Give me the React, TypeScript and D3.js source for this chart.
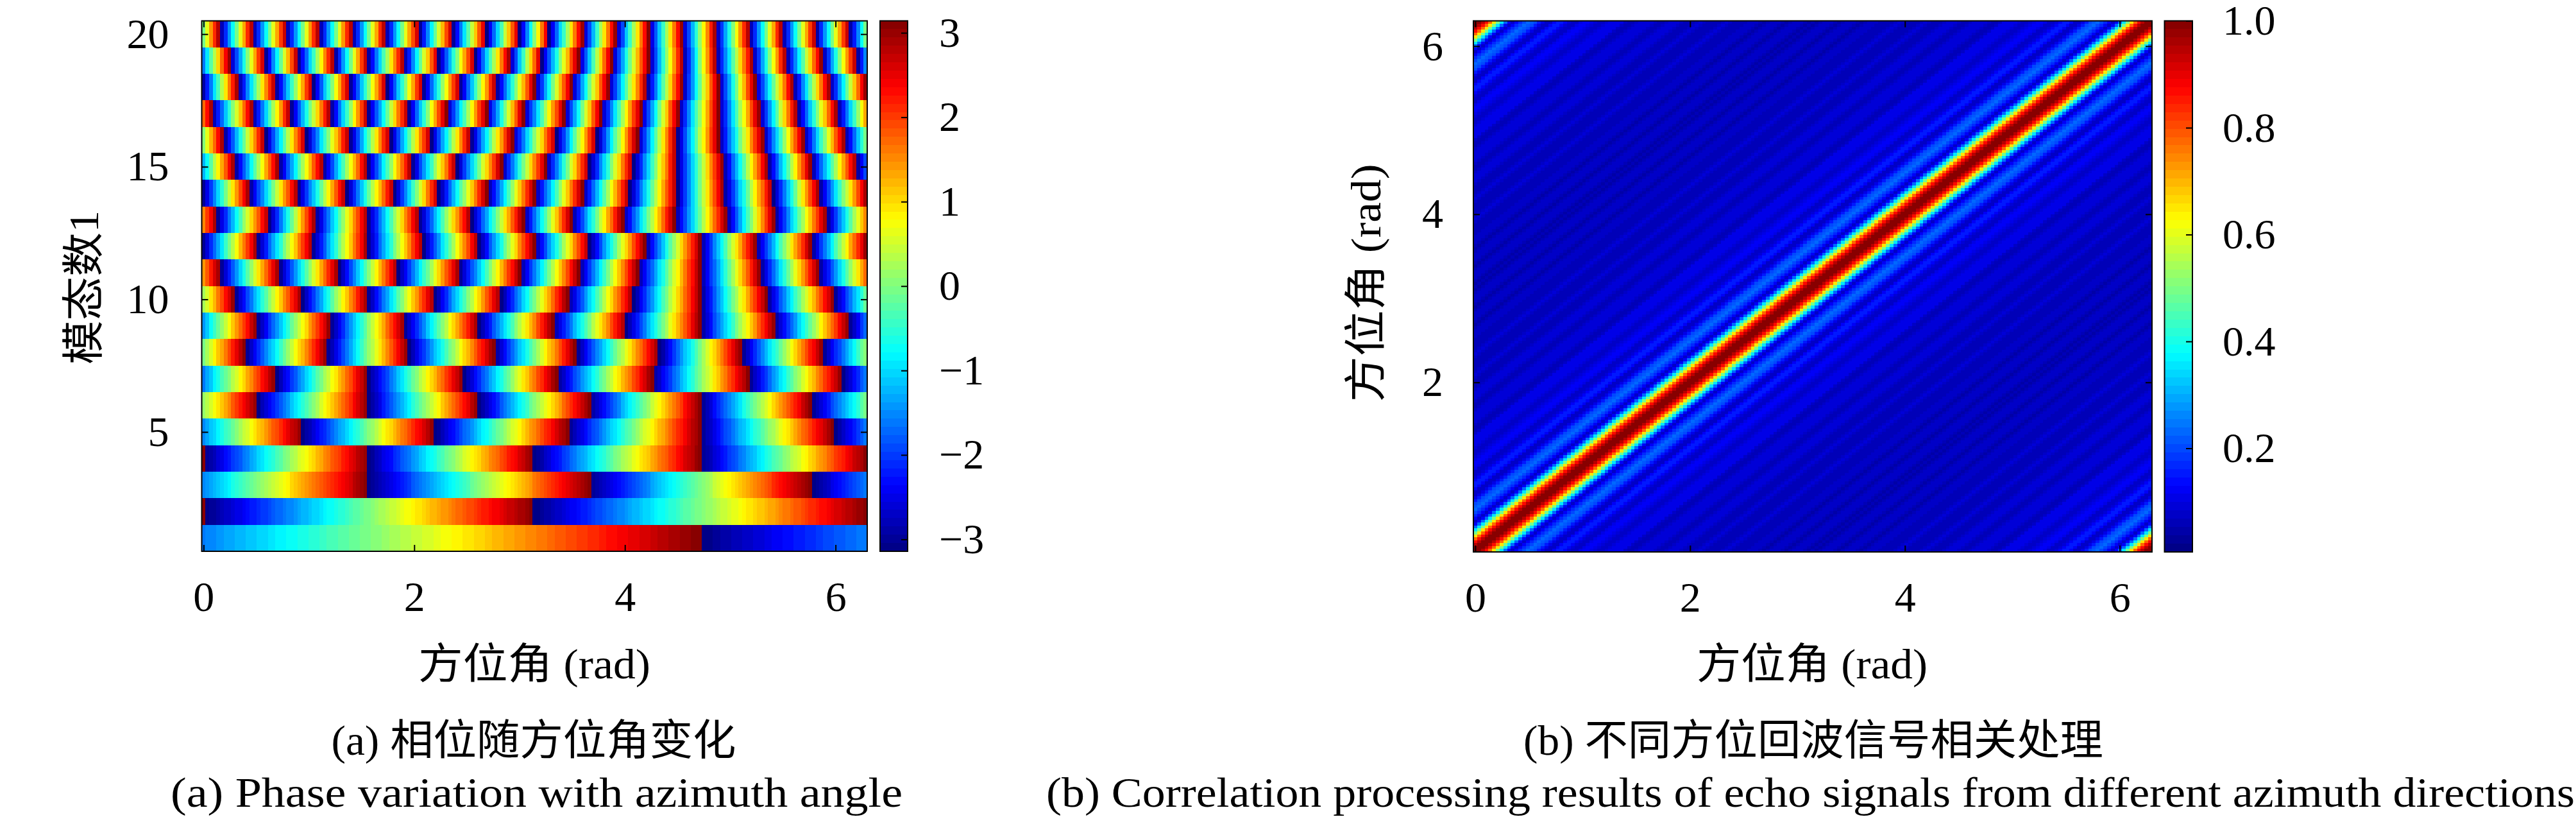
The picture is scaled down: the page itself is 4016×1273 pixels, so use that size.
import React, { useEffect, useRef } from 'react'
import * as d3 from 'd3'

const WIDTH = 4016
const HEIGHT = 1273
const TEXT_FONT = '"Liberation Serif", "Noto Sans CJK SC", serif'
const FONT_SIZE = 66
const TICK_LEN = 10

const azimuthTicks = [0, 2, 4, 6]
const modeTicks = [5, 10, 15, 20]
const phaseTicks = [-3, -2, -1, 0, 1, 2, 3]
const elevationTicks = [2, 4, 6]
const correlationTicks = [0.2, 0.4, 0.6, 0.8, 1.0]

// Azimuth (rad) where the wrapped phase of each mode jumps from +pi to -pi.
// The first and last entry of a row lie just outside the plot.
const phaseJumps: number[][] = [
  [-1.564, 4.719, 11.0],
  [-3.14, 0.01, 3.14, 6.3],
  [-0.545, 1.561, 3.666, 5.771, 7.877],
  [-1.55, 0.01, 1.561, 3.14, 4.719, 6.298, 7.87],
  [-0.326, 0.936, 2.199, 3.461, 4.719, 5.986, 7.248],
  [-0.545, 0.508, 1.561, 2.613, 3.666, 4.719, 5.771, 6.824],
  [-0.223, 0.685, 1.561, 2.469, 3.354, 4.262, 5.175, 6.06, 6.959],
  [-0.391, 0.396, 1.174, 1.943, 2.758, 3.536, 4.327, 5.11, 5.879, 6.666],
  [-0.195, 0.508, 1.208, 1.908, 2.614, 3.318, 4.014, 4.719, 5.423, 6.126, 6.828],
  [-0.335, 0.295, 0.934, 1.559, 2.196, 2.825, 3.46, 4.083, 4.719, 5.348, 5.987, 6.617],
  [-0.414, 0.158, 0.717, 1.283, 1.847, 2.431, 3.004, 3.562, 4.12, 4.719, 5.287, 5.845, 6.417],
  [-0.542, -0.014, 0.512, 1.039, 1.559, 2.087, 2.614, 3.142, 3.663, 4.191, 4.719, 5.246, 5.774, 6.298, 6.83],
  [-0.365, 0.126, 0.625, 1.066, 1.559, 2.05, 2.541, 3.04, 3.497, 3.982, 4.475, 4.966, 5.423, 5.916, 6.407],
  [-0.465, -0.014, 0.437, 0.897, 1.356, 1.811, 2.233, 2.695, 3.146, 3.602, 4.049, 4.496, 4.942, 5.409, 5.845, 6.302, 6.75],
  [-0.126, 0.295, 0.717, 1.137, 1.559, 1.979, 2.405, 2.831, 3.251, 3.663, 4.083, 4.496, 4.932, 5.358, 5.768, 6.2, 6.62],
  [-0.203, 0.193, 0.589, 0.974, 1.39, 1.776, 2.162, 2.541, 2.933, 3.349, 3.735, 4.12, 4.496, 4.891, 5.313, 5.699, 6.089, 6.481],
  [-0.284, 0.085, 0.471, 0.828, 1.208, 1.563, 1.945, 2.304, 2.689, 3.04, 3.424, 3.775, 4.155, 4.51, 4.891, 5.277, 5.638, 6.018, 6.387],
  [-0.363, -0.014, 0.329, 0.686, 1.043, 1.39, 1.742, 2.087, 2.436, 2.781, 3.146, 3.495, 3.846, 4.211, 4.546, 4.891, 5.236, 5.601, 5.946, 6.291, 6.64],
  [-0.081, 0.25, 0.585, 0.897, 1.242, 1.559, 1.904, 2.233, 2.578, 2.908, 3.207, 3.562, 3.877, 4.228, 4.557, 4.867, 5.216, 5.53, 5.875, 6.2, 6.531],
  [-0.156, 0.158, 0.473, 0.788, 1.1, 1.415, 1.729, 2.05, 2.365, 2.685, 3.0, 3.28, 3.602, 3.917, 4.228, 4.546, 4.867, 5.182, 5.5, 5.815, 6.13, 6.444],
]

// Correlation against the angular offset between the two directions, in 2 degree steps (0 to 180 deg)
const correlationByOffset = [
  1.0, 0.985, 0.94, 0.87, 0.77, 0.645, 0.5, 0.36, 0.23, 0.115,
  0.07, 0.12, 0.17, 0.205, 0.225, 0.22, 0.195, 0.155, 0.11, 0.08,
  0.08, 0.13, 0.16, 0.155, 0.125, 0.095, 0.075, 0.08, 0.105, 0.125,
  0.125, 0.105, 0.085, 0.07, 0.07, 0.085, 0.1, 0.11, 0.11, 0.1,
  0.08, 0.065, 0.06, 0.07, 0.085, 0.095, 0.095, 0.085, 0.07, 0.06,
  0.06, 0.07, 0.085, 0.09, 0.085, 0.07, 0.06, 0.055, 0.065, 0.08,
  0.085, 0.08, 0.065, 0.055, 0.055, 0.065, 0.08, 0.085, 0.08, 0.065,
  0.055, 0.055, 0.065, 0.075, 0.08, 0.075, 0.06, 0.05, 0.055, 0.07,
  0.08, 0.075, 0.06, 0.05, 0.055, 0.07, 0.08, 0.075, 0.06, 0.05,
  0.055,
]

const STEP = Math.PI / 90
const gridAngles = d3.range(181).map(i => i * STEP)
const angleDomain: [number, number] = [-STEP / 2, 2 * Math.PI + STEP / 2]

// 64 level jet colormap, same as the original figure
const jetScale = d3.scaleLinear<string>()
  .domain([0, 0.125, 0.375, 0.625, 0.875, 1])
  .range(['#000080', '#0000ff', '#00ffff', '#ffff00', '#ff0000', '#800000'])
const jet64 = d3.range(64).map(i => jetScale((i + 0.5) / 64))

const phaseAt = (jumps: number[], theta: number) => {
  const s = Math.min(Math.max(d3.bisectRight(jumps, theta) - 1, 0), jumps.length - 2)
  const frac = (theta - jumps[s]) / (jumps[s + 1] - jumps[s])
  return -Math.PI + 2 * Math.PI * frac
}

type Cell = { x0: number; x1: number; y0: number; y1: number; level: number }
type Box = { left: number; right: number; top: number; bottom: number }

const App: React.FC = () => {
  const svgRef = useRef<SVGSVGElement | null>(null)

  useEffect(() => {
    if (!svgRef.current) return
    const svg = d3.select(svgRef.current)
    svg.selectAll('*').remove()

    // one path per colour keeps the DOM small
    const drawCells = (cells: Cell[]) => {
      const byLevel = d3.group(cells, d => d.level)
      byLevel.forEach((list, level) => {
        const p = d3.path()
        list.forEach(c => p.rect(c.x0, c.y0, c.x1 - c.x0, c.y1 - c.y0))
        svg.append('path')
          .attr('d', p.toString())
          .attr('fill', jet64[level])
          .attr('shape-rendering', 'crispEdges')
      })
    }

    const styleAxis = (g: d3.Selection<SVGGElement, unknown, null, undefined>) => {
      g.select('.domain').remove()
      g.selectAll('line').attr('stroke', '#000').attr('stroke-width', 2)
      g.selectAll('text')
        .attr('fill', '#000')
        .style('font-family', TEXT_FONT)
        .style('font-size', `${FONT_SIZE}px`)
    }

    const drawFrame = (b: Box) => {
      svg.append('rect')
        .attr('x', b.left)
        .attr('y', b.top)
        .attr('width', b.right - b.left)
        .attr('height', b.bottom - b.top)
        .attr('fill', 'none')
        .attr('stroke', '#000')
        .attr('stroke-width', 2)
    }

    // ticks on all four sides, labels only left and bottom
    const drawAxes = (b: Box, x: d3.ScaleLinear<number, number>, y: d3.ScaleLinear<number, number>,
      xTicks: number[], yTicks: number[], yPadding: number) => {
      svg.append('g').attr('transform', `translate(0,${b.bottom})`)
        .call(d3.axisBottom(x).tickValues(xTicks).tickSize(-TICK_LEN).tickPadding(46).tickFormat(d3.format('d') as any))
        .call(styleAxis)
      svg.append('g').attr('transform', `translate(0,${b.top})`)
        .call(d3.axisTop(x).tickValues(xTicks).tickSize(-TICK_LEN).tickFormat(() => ''))
        .call(styleAxis)
      svg.append('g').attr('transform', `translate(${b.left},0)`)
        .call(d3.axisLeft(y).tickValues(yTicks).tickSize(-TICK_LEN).tickPadding(yPadding).tickFormat(d3.format('d') as any))
        .call(styleAxis)
      svg.append('g').attr('transform', `translate(${b.right},0)`)
        .call(d3.axisRight(y).tickValues(yTicks).tickSize(-TICK_LEN).tickFormat(() => ''))
        .call(styleAxis)
      drawFrame(b)
    }

    const drawColorbar = (b: Box, domain: [number, number], ticks: number[], fmt: string, labelX: number) => {
      const scale = d3.scaleLinear().domain(domain).range([b.bottom, b.top])
      const level = d3.scaleLinear().domain([0, 64]).range(domain)
      drawCells(d3.range(64).map(i => ({
        x0: b.left,
        x1: b.right,
        y0: scale(level(i + 1)),
        y1: scale(level(i)),
        level: i,
      })))
      svg.append('g').attr('transform', `translate(${b.right},0)`)
        .call(d3.axisRight(scale).tickValues(ticks).tickSize(-TICK_LEN).tickFormat(d3.format(fmt) as any))
        .call(styleAxis)
        .selectAll('text')
        .attr('x', labelX - b.right)
        .style('text-anchor', 'start')
      drawFrame(b)
    }

    const addText = (label: string, x: number, y: number, length: number, opts: { rotate?: boolean; anchor?: string } = {}) => {
      svg.append('text')
        .attr('transform', opts.rotate ? `translate(${x},${y}) rotate(-90)` : `translate(${x},${y})`)
        .attr('text-anchor', opts.anchor ?? 'middle')
        .attr('fill', '#000')
        .attr('textLength', length)
        .attr('lengthAdjust', 'spacingAndGlyphs')
        .style('font-family', TEXT_FONT)
        .style('font-size', `${FONT_SIZE}px`)
        .text(label)
    }

    // panel (a)
    const boxA: Box = { left: 314.5, right: 1352, top: 32.5, bottom: 859 }
    const xA = d3.scaleLinear().domain(angleDomain).range([boxA.left, boxA.right])
    const yA = d3.scaleLinear().domain([0.5, 20.5]).range([boxA.bottom, boxA.top])
    const phaseLevel = d3.scaleQuantize<number>().domain([-Math.PI, Math.PI]).range(d3.range(64))
    const cellsA: Cell[] = []
    phaseJumps.forEach((jumps, row) => {
      gridAngles.forEach(theta => {
        cellsA.push({
          x0: xA(theta - STEP / 2),
          x1: xA(theta + STEP / 2),
          y0: yA(row + 1.5),
          y1: yA(row + 0.5),
          level: phaseLevel(phaseAt(jumps, theta)),
        })
      })
    })
    drawCells(cellsA)
    drawAxes(boxA, xA, yA, azimuthTicks, modeTicks, 51)
    drawColorbar({ left: 1372, right: 1415, top: 32.5, bottom: 859 }, [-Math.PI, Math.PI], phaseTicks, 'd', 1464)

    // panel (b)
    const boxB: Box = { left: 2297, right: 3355, top: 32.5, bottom: 860 }
    const xB = d3.scaleLinear().domain(angleDomain).range([boxB.left, boxB.right])
    const yB = d3.scaleLinear().domain(angleDomain).range([boxB.bottom, boxB.top])
    const corrMin = 0.006
    const corrLevel = d3.scaleQuantize<number>().domain([corrMin, 1]).range(d3.range(64))
    const cellsB: Cell[] = []
    gridAngles.forEach((tx, i) => {
      gridAngles.forEach((ty, j) => {
        const off = Math.abs(i - j)
        cellsB.push({
          x0: xB(tx - STEP / 2),
          x1: xB(tx + STEP / 2),
          y0: yB(ty + STEP / 2),
          y1: yB(ty - STEP / 2),
          level: corrLevel(correlationByOffset[Math.min(off, 180 - off)]),
        })
      })
    })
    drawCells(cellsB)
    drawAxes(boxB, xB, yB, azimuthTicks, elevationTicks, 47)
    drawColorbar({ left: 3374.5, right: 3418, top: 32.5, bottom: 860 }, [corrMin, 1], correlationTicks, '.1f', 3465)

    // titles and captions
    addText('方位角 (rad)', 833, 1057, 362)
    addText('模态数1', 153, 448, 240, { rotate: true })
    addText('(a) 相位随方位角变化', 832, 1176, 631)
    addText('(a) Phase variation with azimuth angle', 266, 1257, 1141, { anchor: 'start' })

    addText('方位角 (rad)', 2825, 1057, 360)
    addText('方位角 (rad)', 2152, 441, 371, { rotate: true })
    addText('(b) 不同方位回波信号相关处理', 2827, 1176, 904)
    addText('(b) Correlation processing results of echo signals from different azimuth directions', 1631, 1257, 2383, { anchor: 'start' })
  }, [])

  return (
    <div style={{ position: 'absolute', left: 0, top: 0, width: WIDTH, height: HEIGHT, background: '#fff' }}>
      <svg ref={svgRef} width={WIDTH} height={HEIGHT} viewBox={`0 0 ${WIDTH} ${HEIGHT}`} style={{ display: 'block' }} />
    </div>
  )
}

export default App
